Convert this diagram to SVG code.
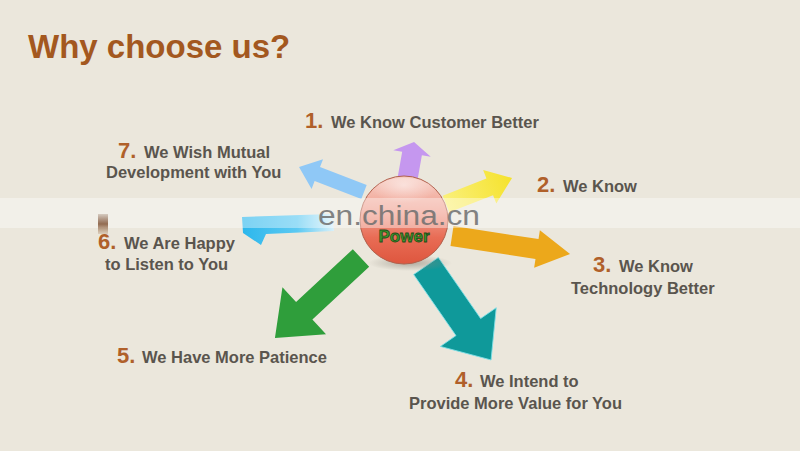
<svg xmlns="http://www.w3.org/2000/svg" width="800" height="451" viewBox="0 0 800 451">
  <defs>
    <style>
      .title { font-family: "Liberation Sans", Arial, sans-serif; font-weight: bold; font-size: 33px; fill: #a3581f; }
      .num { font-family: "Liberation Sans", Arial, sans-serif; font-weight: bold; font-size: 22px; fill: #b0602a; }
      .lbl { font-family: "Liberation Sans", Arial, sans-serif; font-weight: bold; font-size: 16.5px; fill: #5a554e; }
      .wm { font-family: "Liberation Sans", Arial, sans-serif; font-size: 27px; fill: #6f6f6f; opacity: 0.85; }
      .power { font-family: "Liberation Sans", Arial, sans-serif; font-weight: bold; font-size: 17px; fill: #3d9a2e; stroke: #1f4a17; stroke-width: 0.8; }
    </style>
    <linearGradient id="sphereG" x1="0" y1="0" x2="0" y2="1">
      <stop offset="0" stop-color="#f7cfc5"/>
      <stop offset="0.4" stop-color="#f0a090"/>
      <stop offset="0.7" stop-color="#e86c55"/>
      <stop offset="1" stop-color="#de563e"/>
    </linearGradient>
    <radialGradient id="hiG" cx="0.5" cy="0.2" r="0.5">
      <stop offset="0" stop-color="#ffffff" stop-opacity="0.5"/>
      <stop offset="1" stop-color="#ffffff" stop-opacity="0"/>
    </radialGradient>
    <radialGradient id="shadowG" cx="0.5" cy="0.5" r="0.5">
      <stop offset="0" stop-color="#8a8478" stop-opacity="0.6"/>
      <stop offset="1" stop-color="#8a8478" stop-opacity="0"/>
    </radialGradient>
    <linearGradient id="cyanG" x1="0" y1="0" x2="1" y2="0">
      <stop offset="0" stop-color="#2cb7ec"/>
      <stop offset="0.6" stop-color="#5cc9f2"/>
      <stop offset="1" stop-color="#d8f0fa"/>
    </linearGradient>
    <linearGradient id="yellowG" x1="0" y1="0" x2="1" y2="0">
      <stop offset="0" stop-color="#faf07a"/>
      <stop offset="1" stop-color="#f5e22c"/>
    </linearGradient>
    <linearGradient id="brownG" x1="0" y1="0" x2="0" y2="1">
      <stop offset="0" stop-color="#6a3a20" stop-opacity="0.2"/>
      <stop offset="0.5" stop-color="#7a4a2a" stop-opacity="0.8"/>
      <stop offset="1" stop-color="#9a6a40" stop-opacity="0.2"/>
    </linearGradient>
  </defs>

  <rect width="800" height="451" fill="#ebe7dc"/>

  <text class="title" x="28" y="58">Why choose us?</text>

  <g id="connectors">
    <path transform="translate(407,182) rotate(-80)" d="M0,-10 L29,-10 L29,-19 L40.6,0 L29,19 L29,10 L0,10 Z" fill="#c597ef"/>
    <path transform="translate(364,192) rotate(-159)" d="M0,-7.5 L50,-7.5 L50,-16 L69.6,0 L50,16 L50,7.5 L0,7.5 Z" fill="#8fc8f6"/>
    <path transform="translate(446,204) rotate(-21.5)" d="M0,-9 L47,-9 L47,-18 L71,0 L47,18 L47,9 L0,9 Z" fill="url(#yellowG)"/>
    <path transform="translate(452,236) rotate(8.7)" d="M0,-10 L86,-10 L86,-19 L119.4,0 L86,19 L86,10 L0,10 Z" fill="#eca81b"/>
    <path d="M242,217 L332,214 L334,231 L266,234 L261,245 L243,233 Z" fill="url(#cyanG)"/>
    <path transform="translate(361,258) rotate(137.1)" d="M0,-12 L77.5,-12 L77.5,-32 L117.5,0 L77.5,32 L77.5,12 L0,12 Z" fill="#2f9e3b"/>
    <path transform="translate(426,266) rotate(55.3)" d="M0,-15 L74.3,-15 L74.3,-34 L114.3,0 L74.3,34 L74.3,15 L0,15 Z" fill="#0f999a" stroke="#7fe0e8" stroke-width="0.8"/>
  </g>

  <g id="center">
    <ellipse cx="410" cy="263" rx="42" ry="8" fill="url(#shadowG)"/>
    <circle cx="404" cy="220" r="44" fill="url(#sphereG)" stroke="#b0604c" stroke-width="1"/>
    <ellipse cx="404" cy="196" rx="34" ry="18" fill="url(#hiG)"/>
    <text class="power" x="404" y="242" text-anchor="middle">Power</text>
  </g>

  <rect x="0" y="198" width="800" height="30" fill="#ffffff" opacity="0.38"/>
  <rect x="98" y="214" width="10" height="20" fill="url(#brownG)"/>
  <text class="wm" x="318" y="225" textLength="162" lengthAdjust="spacingAndGlyphs">en.china.cn</text>

  <g id="n1">
    <text class="num" x="305" y="128">1.</text>
    <text class="lbl" x="331" y="128">We Know Customer Better</text>
  </g>
  <g id="n2">
    <text class="num" x="537" y="192">2.</text>
    <text class="lbl" x="563" y="192">We Know</text>
  </g>
  <g id="n3">
    <text class="num" x="593" y="272">3.</text>
    <text class="lbl" x="619" y="272">We Know</text>
    <text class="lbl" x="571" y="294">Technology Better</text>
  </g>
  <g id="n4">
    <text class="num" x="455" y="387">4.</text>
    <text class="lbl" x="480" y="387">We Intend to</text>
    <text class="lbl" x="409" y="409">Provide More Value for You</text>
  </g>
  <g id="n5">
    <text class="num" x="117" y="363">5.</text>
    <text class="lbl" x="142" y="363">We Have More Patience</text>
  </g>
  <g id="n6">
    <text class="num" x="98" y="249">6.</text>
    <text class="lbl" x="124" y="249">We Are Happy</text>
    <text class="lbl" x="105" y="270">to Listen to You</text>
  </g>
  <g id="n7">
    <text class="num" x="118" y="158">7.</text>
    <text class="lbl" x="144" y="158">We Wish Mutual</text>
    <text class="lbl" x="106" y="178">Development with You</text>
  </g>
</svg>
